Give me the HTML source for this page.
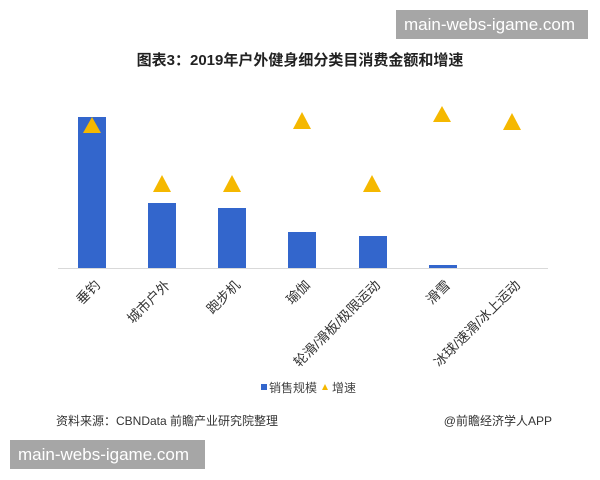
<!DOCTYPE html>
<html><head><meta charset="utf-8"><style>
body{margin:0;width:600px;height:480px;background:#fff;overflow:hidden;position:relative;font-family:"Liberation Sans","Noto Sans CJK SC",sans-serif;}
.box{position:absolute;background:#a6a6a6;color:#fff;font-size:17px;line-height:29px;padding-left:8px;}
</style></head><body>
<div class="box" style="left:396px;top:10px;width:184px;height:29px;">main-webs-igame.com</div>
<div class="box" style="left:10px;top:440px;width:187px;height:29px;">main-webs-igame.com</div>
<div style="position:absolute;left:0;width:600px;top:49px;text-align:center;font-size:15px;font-weight:bold;color:#222;">图表3：2019年户外健身细分类目消费金额和增速</div>
<svg width="600" height="480" style="position:absolute;left:0;top:0" font-family="Liberation Sans,Noto Sans CJK SC,sans-serif">
<line x1="58" y1="268.5" x2="548" y2="268.5" stroke="#d9d9d9" stroke-width="1"/>
<g fill="#3366cc">
<rect x="78" y="117" width="28" height="151"/>
<rect x="148" y="203" width="28" height="65"/>
<rect x="218" y="208" width="28" height="60"/>
<rect x="288" y="232" width="28" height="36"/>
<rect x="359" y="236" width="28" height="32"/>
<rect x="429" y="265" width="28" height="3"/>
</g>
<g fill="#f5b800">
<polygon points="92,117 83,133 101,133"/>
<polygon points="162,175 153,192 171,192"/>
<polygon points="232,175 223,192 241,192"/>
<polygon points="302,112 293,129 311,129"/>
<polygon points="372,175 363,192 381,192"/>
<polygon points="442,106 433,122 451,122"/>
<polygon points="512,113 503,130 521,130"/>
</g>
<g font-size="13.5" fill="#333" text-anchor="end">
<text transform="translate(101,286) rotate(-45)">垂钓</text>
<text transform="translate(171,286) rotate(-45)">城市户外</text>
<text transform="translate(241,286) rotate(-45)">跑步机</text>
<text transform="translate(311,286) rotate(-45)">瑜伽</text>
<text transform="translate(381,286) rotate(-45)">轮滑/滑板/极限运动</text>
<text transform="translate(451,286) rotate(-45)">滑雪</text>
<text transform="translate(521,286) rotate(-45)">冰球/速滑/冰上运动</text>
</g>
<rect x="261" y="384" width="6" height="6" fill="#3366cc"/>
<text x="269" y="392" font-size="12" fill="#444">销售规模</text>
<polygon points="325,384 322,390 328,390" fill="#f5b800"/>
<text x="332" y="392" font-size="12" fill="#444">增速</text>
<text x="56" y="425" font-size="12" fill="#333">资料来源：CBNData 前瞻产业研究院整理</text>
<text x="552" y="425" font-size="12" fill="#333" text-anchor="end">@前瞻经济学人APP</text>
</svg>
</body></html>
